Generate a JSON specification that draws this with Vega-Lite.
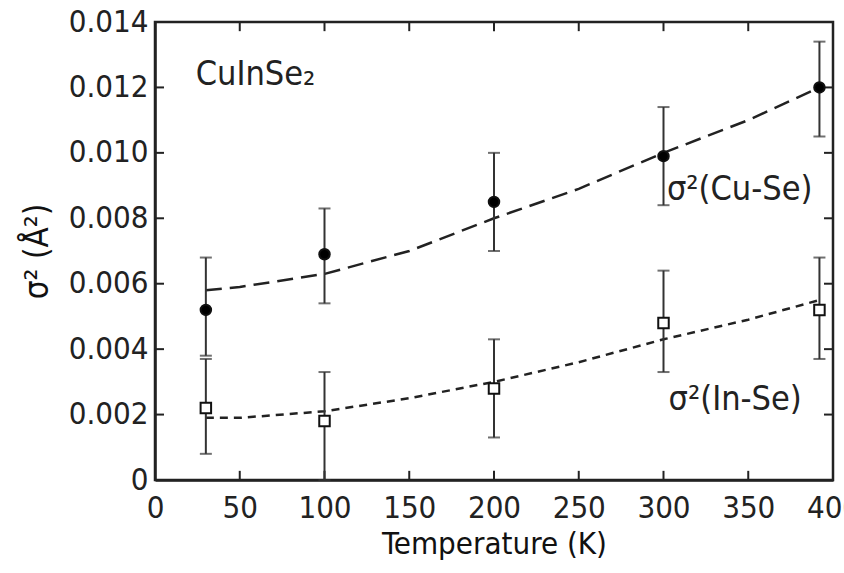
{
  "$schema": "https://vega.github.io/schema/vega-lite/v6.json",
  "width": 678,
  "height": 458,
  "autosize": "none",
  "padding": {"left": 155, "top": 22, "right": 11, "bottom": 93},
  "background": "white",
  "config": {
    "font": "DejaVu Sans Condensed",
    "view": {"stroke": "#222", "strokeWidth": 2.5},
    "axis": {
      "grid": false,
      "ticks": false,
      "domainColor": "#222",
      "domainWidth": 2.5,
      "labelFontSize": 31,
      "labelColor": "#222",
      "titleFontSize": 31,
      "titleFontWeight": "normal",
      "titleColor": "#111"
    }
  },
  "datasets": {
    "pts": [
      {"T": 30, "s": 0.0052, "lo": 0.0038, "hi": 0.0068, "series": "Cu-Se"},
      {"T": 100, "s": 0.0069, "lo": 0.0054, "hi": 0.0083, "series": "Cu-Se"},
      {"T": 200, "s": 0.0085, "lo": 0.0070, "hi": 0.0100, "series": "Cu-Se"},
      {"T": 300, "s": 0.0099, "lo": 0.0084, "hi": 0.0114, "series": "Cu-Se"},
      {"T": 392, "s": 0.0120, "lo": 0.0105, "hi": 0.0134, "series": "Cu-Se"},
      {"T": 30, "s": 0.0022, "lo": 0.0008, "hi": 0.0037, "series": "In-Se"},
      {"T": 100, "s": 0.0018, "lo": 0.0000, "hi": 0.0033, "series": "In-Se"},
      {"T": 200, "s": 0.0028, "lo": 0.0013, "hi": 0.0043, "series": "In-Se"},
      {"T": 300, "s": 0.0048, "lo": 0.0033, "hi": 0.0064, "series": "In-Se"},
      {"T": 392, "s": 0.0052, "lo": 0.0037, "hi": 0.0068, "series": "In-Se"}
    ],
    "fit": [
      {"T": 30, "s": 0.0058, "series": "Cu-Se"},
      {"T": 50, "s": 0.0059, "series": "Cu-Se"},
      {"T": 100, "s": 0.0063, "series": "Cu-Se"},
      {"T": 150, "s": 0.0070, "series": "Cu-Se"},
      {"T": 200, "s": 0.0080, "series": "Cu-Se"},
      {"T": 250, "s": 0.0089, "series": "Cu-Se"},
      {"T": 300, "s": 0.0100, "series": "Cu-Se"},
      {"T": 350, "s": 0.0110, "series": "Cu-Se"},
      {"T": 392, "s": 0.0120, "series": "Cu-Se"},
      {"T": 30, "s": 0.0019, "series": "In-Se"},
      {"T": 50, "s": 0.0019, "series": "In-Se"},
      {"T": 100, "s": 0.0021, "series": "In-Se"},
      {"T": 150, "s": 0.0025, "series": "In-Se"},
      {"T": 200, "s": 0.0030, "series": "In-Se"},
      {"T": 250, "s": 0.0036, "series": "In-Se"},
      {"T": 300, "s": 0.0043, "series": "In-Se"},
      {"T": 350, "s": 0.0049, "series": "In-Se"},
      {"T": 392, "s": 0.0055, "series": "In-Se"}
    ],
    "labels": [
      {"T": 24, "s": 0.01238, "text": "CuInSe₂"},
      {"T": 302, "s": 0.00886, "text": "σ²(Cu-Se)"},
      {"T": 303, "s": 0.00245, "text": "σ²(In-Se)"}
    ],
    "xticks": [{"T": 50}, {"T": 100}, {"T": 150}, {"T": 200}, {"T": 250}, {"T": 300}, {"T": 350}],
    "yticks": [{"s": 0.002}, {"s": 0.004}, {"s": 0.006}, {"s": 0.008}, {"s": 0.010}, {"s": 0.012}]
  },
  "layer": [
    {
      "data": {"name": "fit"},
      "mark": {"type": "line", "stroke": "#222", "strokeWidth": 2.5},
      "encoding": {
        "x": {"field": "T", "type": "quantitative", "scale": {"domain": [0, 400], "nice": false},
          "axis": {"orient": "bottom", "values": [0, 50, 100, 150, 200, 250, 300, 350, 400], "tickSize": 0, "labelFlush": false, "title": "Temperature (K)", "labelPadding": 13, "titlePadding": 6}},
        "y": {"field": "s", "type": "quantitative", "scale": {"domain": [0, 0.014], "nice": false},
          "axis": {"orient": "left", "values": [0, 0.002, 0.004, 0.006, 0.008, 0.01, 0.012, 0.014], "tickSize": 0, "labelFlush": false,
            "labelExpr": "datum.value == 0 ? '0' : format(datum.value, '.3f')", "title": "σ² (Å²)", "titleFontSize": 33, "labelPadding": 7, "titlePadding": 14}},
        "strokeDash": {"field": "series", "type": "nominal", "scale": {"domain": ["Cu-Se", "In-Se"], "range": [[16, 8], [8, 6]]}, "legend": null}
      }
    },
    {
      "data": {"name": "xticks"},
      "mark": {"type": "rule", "stroke": "#222", "strokeWidth": 2},
      "encoding": {
        "x": {"field": "T", "type": "quantitative"},
        "y": {"datum": 0, "type": "quantitative"},
        "y2": {"datum": 0.00028}
      }
    },
    {
      "data": {"name": "xticks"},
      "mark": {"type": "rule", "stroke": "#222", "strokeWidth": 2},
      "encoding": {
        "x": {"field": "T", "type": "quantitative"},
        "y": {"datum": 0.014, "type": "quantitative"},
        "y2": {"datum": 0.01372}
      }
    },
    {
      "data": {"name": "yticks"},
      "mark": {"type": "rule", "stroke": "#222", "strokeWidth": 2},
      "encoding": {
        "y": {"field": "s", "type": "quantitative"},
        "x": {"datum": 0, "type": "quantitative"},
        "x2": {"datum": 5.3}
      }
    },
    {
      "data": {"name": "yticks"},
      "mark": {"type": "rule", "stroke": "#222", "strokeWidth": 2},
      "encoding": {
        "y": {"field": "s", "type": "quantitative"},
        "x": {"datum": 400, "type": "quantitative"},
        "x2": {"datum": 394.7}
      }
    },
    {
      "data": {"name": "pts"},
      "mark": {"type": "rule", "stroke": "#333", "strokeWidth": 2},
      "encoding": {
        "x": {"field": "T", "type": "quantitative"},
        "y": {"field": "lo", "type": "quantitative"},
        "y2": {"field": "hi"}
      }
    },
    {
      "data": {"name": "pts"},
      "mark": {"type": "tick", "orient": "horizontal", "color": "#333", "size": 12, "thickness": 2},
      "encoding": {
        "x": {"field": "T", "type": "quantitative"},
        "y": {"field": "lo", "type": "quantitative"}
      }
    },
    {
      "data": {"name": "pts"},
      "mark": {"type": "tick", "orient": "horizontal", "color": "#333", "size": 12, "thickness": 2},
      "encoding": {
        "x": {"field": "T", "type": "quantitative"},
        "y": {"field": "hi", "type": "quantitative"}
      }
    },
    {
      "data": {"name": "pts"},
      "mark": {"type": "point", "filled": true, "stroke": "#111", "strokeWidth": 2, "opacity": 1, "size": 110},
      "encoding": {
        "x": {"field": "T", "type": "quantitative"},
        "y": {"field": "s", "type": "quantitative"},
        "shape": {"field": "series", "type": "nominal", "scale": {"domain": ["Cu-Se", "In-Se"], "range": ["circle", "square"]}, "legend": null},
        "fill": {"field": "series", "type": "nominal", "scale": {"domain": ["Cu-Se", "In-Se"], "range": ["#000", "#fff"]}, "legend": null}
      }
    },
    {
      "data": {"name": "labels"},
      "mark": {"type": "text", "align": "left", "baseline": "middle", "fontSize": 34, "color": "#222"},
      "encoding": {
        "x": {"field": "T", "type": "quantitative"},
        "y": {"field": "s", "type": "quantitative"},
        "text": {"field": "text", "type": "nominal"}
      }
    }
  ]
}
